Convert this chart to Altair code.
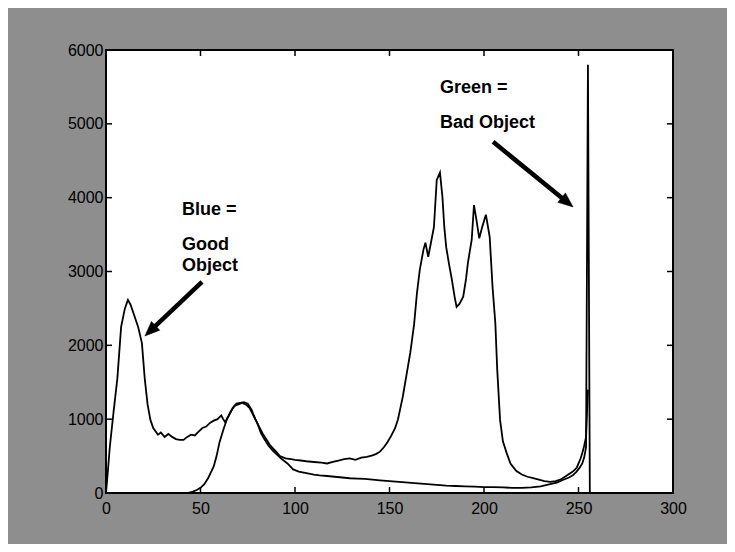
import altair as alt
import pandas as pd
import numpy as np

# ---- data ----
good_x = [0, 1, 2, 4, 6, 8, 10, 11.6, 13, 15, 17, 19, 20.5, 22, 23.5, 25, 27.5, 29, 31, 33, 35, 37, 39, 41,
          43, 45, 47, 49, 51, 53, 55, 57, 59, 61, 62, 63, 65, 67, 69, 71, 73, 75, 77, 79, 81, 83, 85, 87,
          90, 92, 95, 98, 100, 103, 106, 110, 114, 117, 120, 123, 126, 129, 132, 135, 138, 141, 143, 145,
          147, 149, 151, 153, 154.5, 156, 157, 159, 161, 163, 164.5, 166, 168, 169, 170.5, 172, 173.5, 175,
          176.7, 178, 179, 180, 181.5, 183, 184.5, 185.5, 187, 189, 190.5, 191.5, 193.5, 194.7, 196, 197.5,
          199, 201, 203, 204.5, 206, 207, 208.5, 210, 212, 214, 217, 220, 223, 226, 229, 232, 235, 238,
          241, 244, 247, 249, 251, 252, 253, 254, 255]
good_y = [0, 300, 620, 1100, 1550, 2250, 2500, 2615, 2550, 2400, 2250, 2030, 1550, 1200, 990, 880, 790, 820,
          760, 800, 760, 730, 720, 720, 760, 790, 780, 830, 880, 900, 950, 980, 1000, 1050, 1000, 960, 1050,
          1150, 1210, 1220, 1230, 1210, 1130, 1000, 900, 800, 720, 640, 560, 500, 470, 460, 450, 440, 430,
          420, 410, 400, 420, 440, 460, 470, 450, 480, 490, 510, 530, 560, 620, 690, 780, 880, 1000, 1180,
          1300, 1600, 1900, 2280, 2700, 3020, 3300, 3390, 3200, 3400, 3600, 4240, 4340, 4010, 3600, 3330,
          3100, 2890, 2650, 2520, 2560, 2660, 2900, 3120, 3430, 3900, 3700, 3450, 3600, 3770, 3470, 2800,
          2300, 1670, 990, 700, 540, 400, 300, 250, 220, 200, 180, 160, 150, 160, 190, 240, 290, 340, 460,
          540, 640, 760, 1400]

bad_x = [43, 46, 48, 50, 52, 54, 55.5, 57, 58.5, 60, 62, 64, 66, 68, 70, 72, 74, 76, 78, 80, 82, 84, 86, 88,
         90, 93, 96, 99, 102, 106, 110, 113, 117, 121, 125, 129, 133, 137, 141, 145, 150, 155, 160, 165,
         170, 175, 180, 185, 190, 195, 200, 205, 210, 215, 220, 225, 230, 235, 238.5, 242, 245, 247, 249,
         250.5, 252, 253, 254, 255, 256]
bad_y = [0, 20, 40, 70, 120, 200, 280, 360, 500, 680, 850, 1000, 1100, 1180, 1200, 1220, 1200, 1150, 1050,
         950, 810, 720, 640, 580, 530, 460, 400, 320, 290, 270, 250, 240, 230, 220, 210, 200, 195, 190, 180,
         170, 160, 150, 140, 130, 120, 110, 100, 95, 90, 85, 80, 80, 75, 70, 70, 75, 90, 120, 140, 180, 210,
         240, 290, 340, 400, 480, 620, 5800, 0]

x_ticks = [0, 50, 100, 150, 200, 250, 300]
y_ticks = [0, 1000, 2000, 3000, 4000, 5000, 6000]

# annotations (data coordinates)
label_text = ["Blue =", "Good", "Object", "Green =", "Bad Object"]
label_x = [40.2, 40.2, 40.2, 176.7, 176.7]
label_y = [3835, 3360, 3075, 5480, 5010]

arrow_x1 = [50.8, 204.8]
arrow_y1 = [2860, 4756]
arrow_x2 = [20.6, 247.1]
arrow_y2 = [2127, 3875]

# ---- layout ----
W, H = 567, 443
XS, YS = W / 300.0, H / 6000.0

xsc = alt.Scale(domain=[0, 300], nice=False, zero=False)
ysc = alt.Scale(domain=[0, 6000], nice=False, zero=False)

lines_df = pd.concat([
    pd.DataFrame({"v": good_x, "c": good_y, "s": "good"}),
    pd.DataFrame({"v": bad_x, "c": bad_y, "s": "bad"}),
])

xaxis = alt.Axis(values=x_ticks, labelFontSize=16, labelFont="Liberation Sans", labelColor="black",
                 ticks=False, tickSize=0, domain=False, grid=False, title=None, labelPadding=7,
                 labelFlush=False, format="d")
yaxis = alt.Axis(values=y_ticks, labelFontSize=16, labelFont="Liberation Sans", labelColor="black",
                 ticks=False, tickSize=0, domain=False, grid=False, title=None, labelPadding=3,
                 labelFlush=False, format="d")

lines = alt.Chart(lines_df).mark_line(color="black", strokeWidth=1.8).encode(
    x=alt.X("v:Q", scale=xsc, axis=xaxis),
    y=alt.Y("c:Q", scale=ysc, axis=yaxis),
    detail="s:N",
    order="v:Q",
)

xt = pd.DataFrame({"v": x_ticks})
yt = pd.DataFrame({"c": y_ticks})
tick_kw = dict(color="black", strokeWidth=1.5)
tb = alt.Chart(xt).mark_rule(**tick_kw).encode(x=alt.X("v:Q", scale=xsc), y=alt.value(H), y2=alt.value(H - 6))
tt = alt.Chart(xt).mark_rule(**tick_kw).encode(x=alt.X("v:Q", scale=xsc), y=alt.value(0), y2=alt.value(6))
tl = alt.Chart(yt).mark_rule(**tick_kw).encode(y=alt.Y("c:Q", scale=ysc), x=alt.value(0), x2=alt.value(6))
tr = alt.Chart(yt).mark_rule(**tick_kw).encode(y=alt.Y("c:Q", scale=ysc), x=alt.value(W), x2=alt.value(W - 6))

# arrows
x1, y1 = np.array(arrow_x1), np.array(arrow_y1)
x2, y2 = np.array(arrow_x2), np.array(arrow_y2)
dxp = (x2 - x1) * XS
dyp = -(y2 - y1) * YS
L = np.hypot(dxp, dyp)
ux, uy = dxp / L, dyp / L
back = 9.5
hx = x2 - back * ux / XS
hy = y2 + back * uy / YS
ang = (np.degrees(np.arctan2(ux, -uy)) + 360) % 360
arr_df = pd.DataFrame({"x1": x1, "y1": y1, "hx": hx, "hy": hy, "ang": ang})

shaft = alt.Chart(arr_df).mark_rule(color="black", strokeWidth=4.5, strokeCap="butt").encode(
    x=alt.X("x1:Q", scale=xsc), y=alt.Y("y1:Q", scale=ysc), x2="hx:Q", y2="hy:Q")
head = alt.Chart(arr_df).mark_point(shape="M0,-1.1L0.7,0.6L-0.7,0.6Z", filled=True, fill="black",
                                    stroke="black", strokeWidth=0.5, size=300, opacity=1).encode(
    x=alt.X("hx:Q", scale=xsc), y=alt.Y("hy:Q", scale=ysc), angle=alt.Angle("ang:Q", scale=None))

txt_df = pd.DataFrame({"t": label_text, "x": label_x, "y": label_y})
texts = alt.Chart(txt_df).mark_text(align="left", baseline="middle", font="Liberation Sans",
                                     fontWeight="bold", fontSize=18, color="black").encode(
    x=alt.X("x:Q", scale=xsc), y=alt.Y("y:Q", scale=ysc), text="t:N")

chart = alt.layer(lines, tb, tt, tl, tr, shaft, head, texts).properties(
    width=W, height=H,
    padding={"left": 98, "top": 42, "right": 54, "bottom": 51},
    autosize=alt.AutoSizeParams(type="none"),
    background="#8e8e8e",
).configure_view(fill="white", stroke="black", strokeWidth=2)

chart.save("out.html", embed_options={"renderer": "svg", "actions": False})
